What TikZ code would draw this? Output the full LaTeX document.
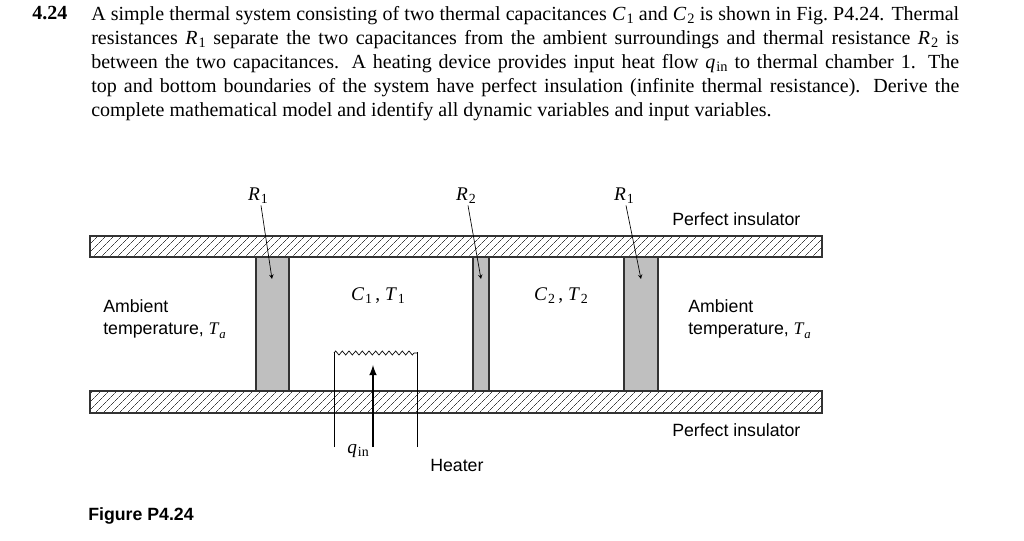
\documentclass[tikz,border=0pt]{standalone}
\usepackage{fontspec}
\setmainfont{Liberation Serif}
\newfontfamily\lsans{Liberation Sans}
\newfontfamily\lserif{Liberation Serif}
\usetikzlibrary{patterns.meta,decorations.pathmorphing}
\newcommand{\vv}[2]{\textit{#1}\kern0.05em\raisebox{-0.35ex}{\scalebox{0.72}{\upshape #2}}}
\newcommand{\tavar}{{\lserif\itshape T\kern0.05em\raisebox{-0.4ex}{\scalebox{0.72}{a}}}}
\begin{document}
\begin{tikzpicture}[x=0.75pt,y=-0.75pt,
  ins/.style={draw=black!80,line width=0.8pt,pattern={Lines[angle=45,distance=4pt,line width=0.45pt]},pattern color=black!75},
  res/.style={draw=black!80,line width=0.8pt,fill=black!25},
  lab/.style={font=\lsans\fontsize{13.3}{17}\selectfont,inner sep=0pt,anchor=west,align=left},
  ml/.style={font=\fontsize{14.5}{16}\selectfont,inner sep=1pt},
  ptr/.style={-stealth,line width=0.5pt}]
\useasboundingbox (0,0) rectangle (1024,541);
\node[anchor=north west,inner sep=0pt,align=justify,text width=651pt,font=\fontsize{15}{18}\selectfont] (txt) at (91,6)
{A simple thermal system consisting of two thermal capacitances \vv{C}{1} and \vv{C}{2} is shown in Fig.~P4.24. Thermal\linebreak
resistances \vv{R}{1} separate the two capacitances from the ambient surroundings and thermal resistance \vv{R}{2} is\linebreak
between the two capacitances. A heating device provides input heat flow \vv{q}{in} to thermal chamber 1. The\linebreak
top and bottom boundaries of the system have perfect insulation (infinite thermal resistance). Derive the\linebreak
complete mathematical model and identify all dynamic variables and input variables.};
\node[anchor=north west,inner sep=0pt,font=\bfseries\fontsize{15}{18}\selectfont] (num) at (32,6) {4.24};
% insulators
\draw[ins] (90,236) rectangle (822,257);
\draw[ins] (90,391) rectangle (822,413);
% resistances
\draw[res] (256,257) rectangle (289,391);
\draw[res] (473,257) rectangle (489,391);
\draw[res] (624,257) rectangle (658,391);
% heater
\draw[line width=0.5pt] (334,447) -- (334,352);
\draw[line width=0.5pt] (417,447) -- (417,352);
\draw[line width=0.5pt,decorate,decoration={zigzag,segment length=5,amplitude=1.5}] (334,353) -- (417,353);
\coordinate (qb) at (373,447);
\coordinate (qt) at (373,365);
\draw[-latex,line width=1.6pt] (qb) -- (qt);
% labels
\node[ml] (r1a) at (258,196) {\vv{R}{1}};
\node[ml] (r2) at (466,196) {\vv{R}{2}};
\node[ml] (r1b) at (624,196) {\vv{R}{1}};
\coordinate (p1) at (272,279);
\coordinate (p2) at (481,279);
\coordinate (p3) at (641,279);
\draw[ptr] (r1a.south) ++(3,0) -- (p1);
\draw[ptr] (r2.south) ++(2,0) -- (p2);
\draw[ptr] (r1b.south) ++(2,0) -- (p3);
\node[ml] (c1) at (378,296) {\vv{C}{1}\,, \vv{T}{1}};
\node[ml] (c2) at (561,296) {\vv{C}{2}\,, \vv{T}{2}};
\node[ml] (qin) at (358,451) {\vv{q}{in}};
\node[lab] (amb1) at (103,319) {Ambient\\temperature, \tavar};
\node[lab] (amb2) at (688,319) {Ambient\\temperature, \tavar};
\node[lab] (pi1) at (672,219) {Perfect insulator};
\node[lab] (pi2) at (672,430) {Perfect insulator};
\node[lab] (heat) at (430,465) {Heater};
\node[lab,font=\lsans\bfseries\fontsize{13.3}{15}\selectfont] (fig) at (88,516) {Figure P4.24};
\end{tikzpicture}
\end{document}
